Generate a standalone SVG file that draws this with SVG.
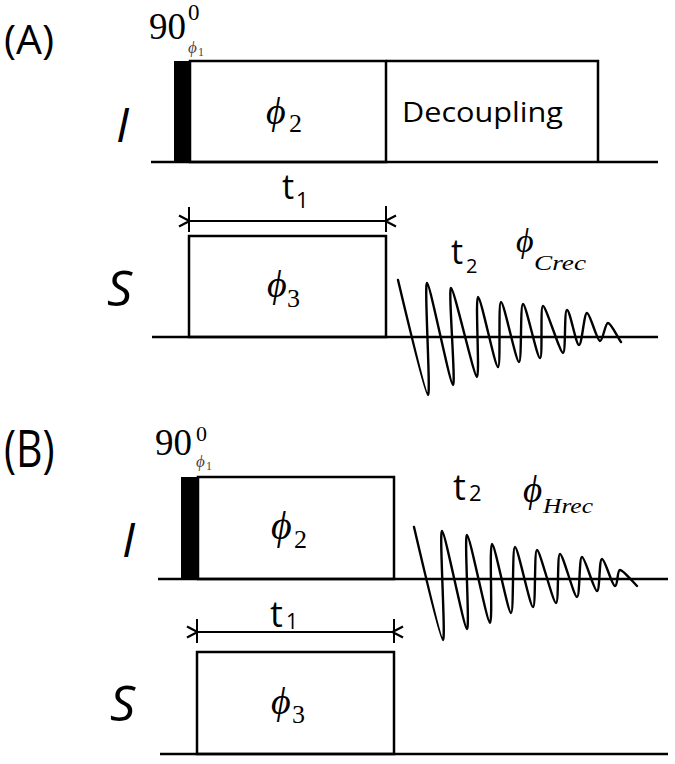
<svg xmlns="http://www.w3.org/2000/svg" width="675" height="764" viewBox="0 0 675 764">
<style>
.ln{stroke:#000;stroke-width:2.5;fill:none}
.bx{stroke:#000;stroke-width:2.5;fill:#fff}
.fid{stroke:#000;stroke-width:2.4;fill:none;stroke-linejoin:round;stroke-linecap:round}
.pl{font-family:"Open Sans","Liberation Sans",sans-serif;fill:#000}
.ch{font-family:"Open Sans","Liberation Sans",sans-serif;font-style:italic;fill:#000}
.sy{font-family:"Liberation Serif","DejaVu Serif",serif;font-style:italic;fill:#000}
.nm{font-family:"Liberation Serif","DejaVu Serif",serif;fill:#000}
.sm{font-family:"Liberation Serif","DejaVu Serif",serif;fill:#444}
</style>
<defs>
<marker id="ah" viewBox="0 0 14 14" refX="1" refY="7" markerWidth="14" markerHeight="14" markerUnits="userSpaceOnUse" orient="auto-start-reverse">
<path d="M12,1.5 L1.5,7 L12,12.5" fill="none" stroke="#000" stroke-width="2.2"/>
</marker>
</defs>

<!-- Panel A -->
<text class="pl" x="4" y="54" font-size="41">(A)</text>
<g id="A-I-label"><text class="ch" x="116" y="142" font-size="48">I</text></g>
<g id="A-S-label"><text class="ch" x="107" y="306" font-size="50">S</text></g>

<g id="A-pulse90">
<rect x="174" y="61" width="16" height="101" fill="#000"/>
<text class="nm" x="149" y="39" font-size="37">90</text>
<text class="nm" x="188" y="20" font-size="23">0</text>
<text class="sm" x="188" y="53" font-size="17" font-style="italic">ϕ</text>
<text class="sm" x="198" y="56" font-size="12">1</text>
</g>
<g id="A-phi2">
<rect class="bx" x="190" y="61" width="196" height="101"/>
<text class="sy" x="266" y="124" font-size="38">ϕ</text>
<text class="nm" x="289" y="132" font-size="26">2</text>
</g>
<g id="A-decoupling">
<path class="ln" d="M386,61 H598 V162"/>
<text class="pl" x="402" y="122" font-size="27" textLength="161" lengthAdjust="spacingAndGlyphs">Decoupling</text>
</g>
<g id="A-phi3">
<rect class="bx" x="189" y="236" width="197" height="101"/>
<text class="sy" x="267" y="297" font-size="38">ϕ</text>
<text class="nm" x="287" y="307" font-size="26">3</text>
</g>
<g id="A-t1">
<text class="pl" x="282" y="199" font-size="34">t</text>
<text class="pl" x="296" y="208" font-size="22">1</text>
</g>
<g id="A-acq">
<text class="pl" x="451" y="264" font-size="34">t</text>
<text class="pl" x="466" y="273" font-size="20">2</text>
<text class="sy" x="516" y="252" font-size="34">ϕ</text>
<text class="sy" x="534" y="270" font-size="22" textLength="52" lengthAdjust="spacingAndGlyphs">Crec</text>
</g>

<!-- Panel B -->
<text class="pl" x="4" y="0" font-size="41" transform="translate(0,467) scale(1,1.25)">(B)</text>
<g id="B-I-label"><text class="ch" x="122" y="557" font-size="48">I</text></g>
<g id="B-S-label"><text class="ch" x="110" y="721" font-size="50">S</text></g>

<g id="B-pulse90">
<rect x="181" y="477" width="17" height="102" fill="#000"/>
<text class="nm" x="155" y="455" font-size="37">90</text>
<text class="nm" x="196" y="441" font-size="22">0</text>
<text class="sm" x="196" y="467" font-size="17" font-style="italic">ϕ</text>
<text class="sm" x="206" y="470" font-size="12">1</text>
</g>
<g id="B-phi2">
<rect class="bx" x="198" y="477" width="196" height="102"/>
<text class="sy" x="271" y="539" font-size="40">ϕ</text>
<text class="nm" x="294" y="548" font-size="26">2</text>
</g>
<g id="B-phi3">
<rect class="bx" x="197" y="652" width="197" height="102"/>
<text class="sy" x="271" y="714" font-size="38">ϕ</text>
<text class="nm" x="292" y="723" font-size="26">3</text>
</g>
<g id="B-t1">
<text class="pl" x="270" y="627" font-size="36">t</text>
<text class="pl" x="286" y="629" font-size="21">1</text>
</g>
<g id="B-acq">
<text class="pl" x="453" y="500" font-size="36">t</text>
<text class="pl" x="469" y="501" font-size="22">2</text>
<text class="sy" x="523" y="502" font-size="37">ϕ</text>
<text class="sy" x="543" y="513" font-size="22" textLength="50" lengthAdjust="spacingAndGlyphs">Hrec</text>
</g>

<!-- Connectors / channel lines -->
<g id="connectors">
<line class="ln" x1="151" y1="162" x2="658" y2="162"/>
<line class="ln" x1="152" y1="337" x2="658" y2="337"/>
<line class="ln" x1="158" y1="579" x2="668" y2="579"/>
<line class="ln" x1="160" y1="754" x2="668" y2="754"/>

<line x1="190" y1="221" x2="385" y2="221" stroke="#000" stroke-width="2.2" marker-start="url(#ah)" marker-end="url(#ah)"/>
<line x1="189" y1="207" x2="189" y2="232" stroke="#000" stroke-width="2"/>
<line x1="386" y1="206" x2="386" y2="232" stroke="#000" stroke-width="2"/>

<line x1="198" y1="632" x2="392" y2="632" stroke="#000" stroke-width="2.2" marker-start="url(#ah)" marker-end="url(#ah)"/>
<line x1="197" y1="619" x2="197" y2="643" stroke="#000" stroke-width="2"/>
<line x1="394" y1="619" x2="394" y2="643" stroke="#000" stroke-width="2"/>

<path class="fid" d="M398,280 C400,288 425,395 428,395 C431,395 424,283 427,283 C430,283 450,385 453,385 C456,385 448,288 451,288 C454,288 474,377 477,377 C480,377 475,297 478,297 C481,297 495,367 498,367 C501,367 498,302 501,302 C504,302 516,362 519,362 C522,362 520,304 523,304 C526,304 537,358 540,358 C543,358 540,306 543,306 C546,306 560,353 563,353 C566,353 564,310 567,310 C570,310 576,345 579,345 C582,345 584,313 587,313 C590,313 597,341 600,341 C603,341 605,323 608,323 C611,323 618,338 621,342"/>
<path class="fid" d="M414,527 C416,535 440,640 443,640 C446,640 439,531 442,531 C445,531 464,629 467,629 C470,629 464,535 467,535 C470,535 487,623 490,623 C493,623 489,544 492,544 C495,544 508,613 511,613 C514,613 512,547 515,547 C518,547 530,607 533,607 C536,607 534,550 537,550 C540,550 553,603 556,603 C559,603 557,554 560,554 C563,554 574,597 577,597 C580,597 579,557 582,557 C585,557 594,591 597,591 C600,591 599,559 602,559 C605,559 612,586 615,586 C618,586 617,570 620,570 C623,570 633,582 637,586"/>
</g>
</svg>
